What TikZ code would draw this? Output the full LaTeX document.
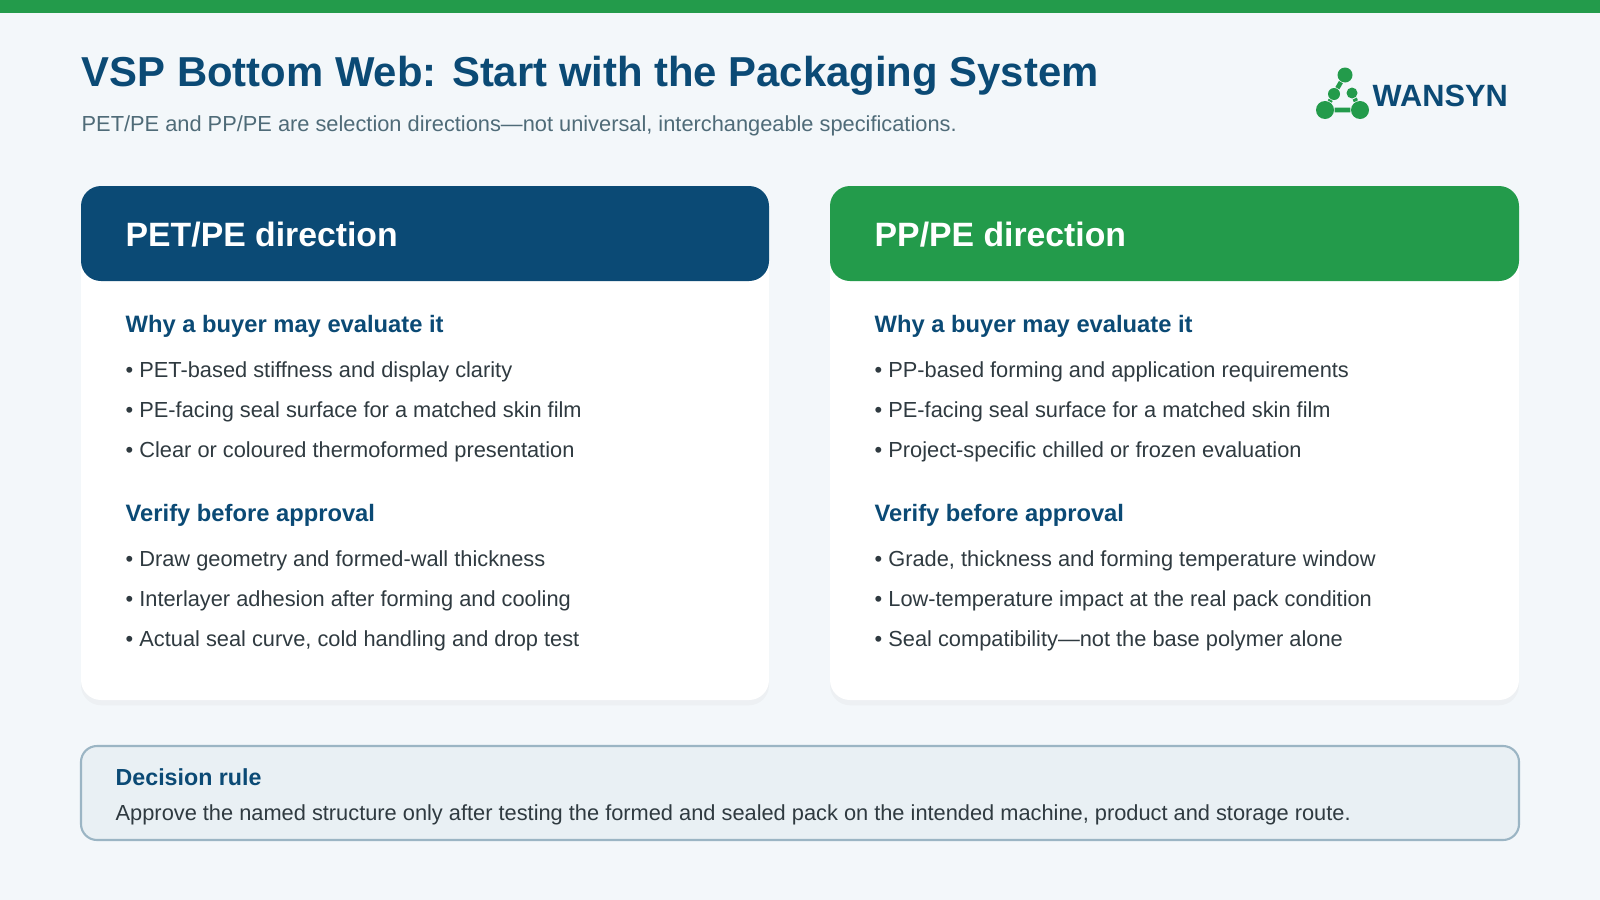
\documentclass[tikz,border=0pt]{standalone}
\usepackage{fontspec}
\setmainfont{Liberation Sans}
\usepackage{tikz}
\usetikzlibrary{positioning,shadows}
\definecolor{navy}{HTML}{0B4A75}
\definecolor{leaf}{HTML}{239B4B}
\definecolor{ink}{HTML}{2F3A40}
\definecolor{mute}{HTML}{4F6B78}
\definecolor{paper}{HTML}{F3F7FA}
\definecolor{rulefill}{HTML}{E9F0F4}
\definecolor{ruleline}{HTML}{9BB5C4}
\begin{document}
\begin{tikzpicture}[x=0.01cm,y=-0.01cm,
  every node/.style={inner sep=0pt},
  card/.style={fill=white,rounded corners=20*0.01cm,drop shadow={opacity=0.05,shadow xshift=0pt,shadow yshift=-1.5pt}},
  head/.style={anchor=base west,text=white,font=\fontsize{9.6}{11}\selectfont\bfseries},
  section/.style={anchor=base west,text=navy,font=\fontsize{6.75}{8}\selectfont\bfseries},
  bullet/.style={anchor=base west,text=ink,font=\fontsize{6.2}{7}\selectfont},
  dot/.style={circle,fill=leaf,inner sep=0pt,minimum size=#1*0.01cm},
]
\fill[paper] (0,0) rectangle (1600,900);
\fill[leaf] (0,0) rectangle (1600,13);

\node (title) [anchor=base west,text=navy,font=\fontsize{11.9}{13}\selectfont\bfseries] at (81,87) {VSP Bottom Web: Start with the Packaging System};
\node (subtitle) [anchor=base west,text=mute,font=\fontsize{6.2}{7}\selectfont] at (81,131) {PET/PE and PP/PE are selection directions---not universal, interchangeable specifications.};

% logo
\node (d1) [dot=15] at (1345,75) {};
\node (d2) [dot=12] at (1334,94) {};
\node (d3) [dot=11] at (1352,93) {};
\node (d4) [dot=18] at (1325,110) {};
\node (d5) [dot=18] at (1360,110) {};
\draw[leaf,line width=1.3pt] (d1) -- (d2) -- (d4) -- (d5) -- (d3);
\node (brand) [anchor=base west,text=navy,font=\fontsize{8.75}{10}\selectfont\bfseries] at (1372,106) {WANSYN};

% left card
\fill[card] (81,186) rectangle (769,700);
\fill[navy,rounded corners=20*0.01cm] (81,186) rectangle (769,281);
\fill[navy] (81,250) rectangle (769,260);
\node (lhead) [head] at (125,246) {PET/PE direction};
\node (lwhy) [section] at (125,332) {Why a buyer may evaluate it};
\node [bullet] at (125,377) {• PET-based stiffness and display clarity};
\node [bullet] at (125,417) {• PE-facing seal surface for a matched skin film};
\node [bullet] at (125,457) {• Clear or coloured thermoformed presentation};
\node (lver) [section] at (125,521) {Verify before approval};
\node [bullet] at (125,566) {• Draw geometry and formed-wall thickness};
\node [bullet] at (125,606) {• Interlayer adhesion after forming and cooling};
\node [bullet] at (125,646) {• Actual seal curve, cold handling and drop test};

% right card
\fill[card] (830,186) rectangle (1519,700);
\fill[leaf,rounded corners=20*0.01cm] (830,186) rectangle (1519,281);
\fill[leaf] (830,250) rectangle (1519,260);
\node (rhead) [head] at (874,246) {PP/PE direction};
\node (rwhy) [section] at (874,332) {Why a buyer may evaluate it};
\node [bullet] at (874,377) {• PP-based forming and application requirements};
\node [bullet] at (874,417) {• PE-facing seal surface for a matched skin film};
\node [bullet] at (874,457) {• Project-specific chilled or frozen evaluation};
\node (rver) [section] at (874,521) {Verify before approval};
\node [bullet] at (874,566) {• Grade, thickness and forming temperature window};
\node [bullet] at (874,606) {• Low-temperature impact at the real pack condition};
\node [bullet] at (874,646) {• Seal compatibility---not the base polymer alone};

% decision rule
\draw[fill=rulefill,draw=ruleline,line width=0.6pt,rounded corners=16*0.01cm] (81,746) rectangle (1519,840);
\node (rule) [anchor=base west,text=navy,font=\fontsize{6.6}{8}\selectfont\bfseries] at (115,785) {Decision rule};
\node (ruletext) [bullet] at (115,820) {Approve the named structure only after testing the formed and sealed pack on the intended machine, product and storage route.};
\end{tikzpicture}
\end{document}
